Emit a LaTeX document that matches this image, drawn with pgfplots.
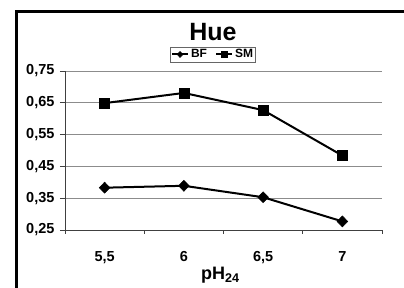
\documentclass[border=0pt]{standalone}
\usepackage{pgfplots}
\pgfplotsset{compat=1.18}
\usepackage{fontspec}
\setmainfont{Liberation Sans}
\begin{document}
\begin{tikzpicture}[x=1pt,y=1pt]
\useasboundingbox (0,0) rectangle (404,288);
\clip (0,0) rectangle (404,288);
\draw[line width=3pt] (16.5,-20) -- (16.5,276.5) -- (430,276.5);
\begin{axis}[
  at={(65pt,58pt)}, anchor=south west,
  scale only axis, width=317pt, height=159pt,
  xmin=0, xmax=4, ymin=0.25, ymax=0.75,
  axis x line*=bottom, axis y line*=left,
  axis line style={black!75, line width=0.8pt},
  xtick={0.5,1.5,2.5,3.5},
  xticklabels={{5,5},{6},{6,5},{7}},
  major x tick style={draw=none},
  extra x ticks={0,1,2,3,4},
  extra x tick labels={},
  extra x tick style={grid=none, tick align=outside, major tick length=4pt, major x tick style={draw=black!75, line width=0.8pt}},
  ytick={0.25,0.35,0.45,0.55,0.65,0.75},
  yticklabels={{0,25},{0,35},{0,45},{0,55},{0,65},{0,75}},
  tick align=outside, major tick length=5pt,
  ymajorgrids, grid style={black!45, line width=0.8pt},
  tick style={black!75, line width=0.8pt},
  tick label style={font=\fontsize{14.5}{16}\selectfont\bfseries},
  yticklabel style={xshift=-2pt},
  xticklabel style={yshift=-13pt},
  title={\fontsize{25}{28}\selectfont\bfseries Hue},
  title style={at={(0.467,1.21)}, anchor=center},
  xlabel={\fontsize{18}{20}\selectfont\bfseries pH$_{\mathbf{24}}$},
  xlabel style={at={(0.49,0)}, anchor=center, yshift=-45pt},
  legend columns=-1,
  legend style={at={(0.467,1.104)}, anchor=center, draw=black!60, line width=0.6pt,
    font=\fontsize{12}{13}\selectfont\bfseries, inner sep=0.5pt,
    /tikz/every even column/.append style={column sep=6pt}},
  legend image code/.code={\draw[#1] (0pt,0pt) -- (16pt,0pt); \draw[#1,mark repeat=2,mark phase=2, mark size=3pt] plot coordinates {(0pt,0pt) (8pt,0pt) (16pt,0pt)};},
]
\addplot[black, line width=2pt, mark=diamond*, mark size=5.5pt, mark options={solid, line width=0.5pt, xscale=1.3}] coordinates {(0.5,0.383) (1.5,0.389) (2.5,0.353) (3.5,0.277)};
\addlegendentry{BF}
\addplot[black, line width=2pt, mark=square*, mark size=5pt, mark options={solid, line width=0.5pt}] coordinates {(0.5,0.649) (1.5,0.681) (2.5,0.627) (3.5,0.484)};
\addlegendentry{SM}
\end{axis}
\end{tikzpicture}
\end{document}
